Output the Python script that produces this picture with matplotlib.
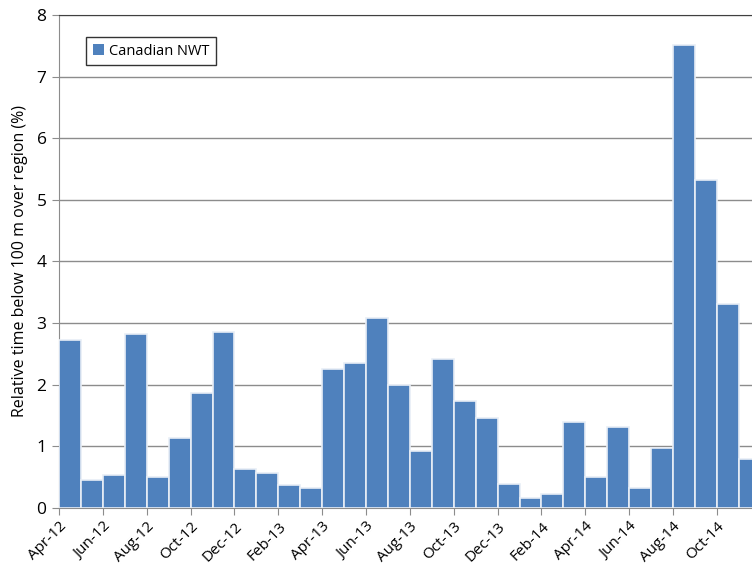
import matplotlib.pyplot as plt
from matplotlib.patches import Patch

months = [
    "Apr-12", "May-12", "Jun-12", "Jul-12", "Aug-12", "Sep-12", "Oct-12", "Nov-12",
    "Dec-12", "Jan-13", "Feb-13", "Mar-13", "Apr-13", "May-13", "Jun-13", "Jul-13",
    "Aug-13", "Sep-13", "Oct-13", "Nov-13", "Dec-13", "Jan-14", "Feb-14", "Mar-14",
    "Apr-14", "May-14", "Jun-14", "Jul-14", "Aug-14", "Sep-14", "Oct-14", "Nov-14",
]
values = [
    2.73, 0.46, 0.53, 2.82, 0.50, 1.14, 1.87, 2.85,
    0.63, 0.56, 0.37, 0.32, 2.26, 2.35, 3.08, 1.99,
    0.92, 2.42, 1.74, 1.46, 0.39, 0.17, 0.23, 1.40,
    0.51, 1.32, 0.32, 0.98, 7.51, 5.32, 3.31, 0.79,
]
series_name = "Canadian NWT"
bar_color = "#4F81BD"

plt.rcParams["font.family"] = ["Open Sans", "DejaVu Sans"]

fig = plt.figure(figsize=(7.52, 5.64), dpi=100)
# the original is cropped on the right, so the axes run past the figure edge
ax = fig.add_axes([0.0785, 0.0993, 0.9332, 0.8741])

x = list(range(len(values)))
ax.bar(x, values, width=1.0, align="edge", color=bar_color,
       edgecolor="#e8eef6", linewidth=1.2, zorder=3)

ax.set_xlim(0, len(values))
ax.set_ylim(0, 8)
ax.set_yticks(range(0, 9))
ax.set_xticks(x[::2])
ax.set_xticklabels(months[::2], rotation=45, ha="right", rotation_mode="anchor")

ax.grid(axis="y", color="#8c8c8c", linewidth=1.0, zorder=0)
ax.tick_params(axis="x", length=5, color="#8c8c8c", labelsize=11, pad=3)
ax.tick_params(axis="y", length=5, color="#8c8c8c", labelsize=12.5, pad=4)

ax.spines["left"].set_color("#8c8c8c")
ax.spines["bottom"].set_color("#8c8c8c")
ax.spines["top"].set_color("#404040")
ax.spines["right"].set_visible(False)

ax.set_ylabel("Relative time below 100 m over region (%)", fontsize=11.5, labelpad=6)

handle = Patch(facecolor=bar_color, edgecolor="none")
leg = ax.legend([handle], [series_name], loc="upper left",
                bbox_to_anchor=(86 / 752, 1 - 37 / 564), bbox_transform=fig.transFigure,
                fontsize=10.5, frameon=True, fancybox=False, handlelength=0.8,
                handleheight=0.8, handletextpad=0.3, borderpad=0.45, borderaxespad=0)
leg.get_frame().set_edgecolor("black")
leg.get_frame().set_linewidth(1.0)

fig.savefig("out.png", dpi=100)
